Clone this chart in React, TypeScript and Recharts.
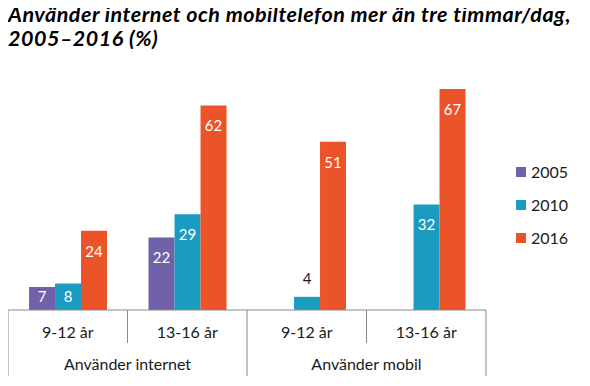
import { BarChart, Bar, XAxis, YAxis, Legend, LabelList } from "recharts";

// kategorier och värden (procent)
const ageGroups = ["9-12 år", "13-16 år", "9-12 år", "13-16 år"];
const usageGroups = ["Använder internet", "Använder internet", "Använder mobil", "Använder mobil"];
const values2005: (number | null)[] = [7, 22, null, null];
const values2010 = [8, 29, 4, 32];
const values2016 = [24, 62, 51, 67];

const COLORS = { y2005: "#7161a8", y2010: "#1a9cc1", y2016: "#eb5429" };
const FONT = "Lato, 'Open Sans', sans-serif";

const W = 574;
const H = 370;
const MARGIN = { top: 38, right: 96, bottom: 0, left: 0 };
const AXIS_H = 68;
const BAND = (W - MARGIN.left - MARGIN.right) / ageGroups.length;
const LINE = "#8a8a8a";

const data = ageGroups.map((age, i) => ({
  age,
  usage: usageGroups[i],
  y2005: values2005[i],
  y2010: values2010[i],
  y2016: values2016[i],
}));

function CategoryTick(props: any) {
  const { x, y, index, payload } = props;
  const half = BAND / 2;
  const left = x - half;
  const groupStart = index === 0 || usageGroups[index] !== usageGroups[index - 1];
  const isLast = index === ageGroups.length - 1;
  return (
    <g>
      <line x1={left} x2={left} y1={y} y2={y + (groupStart ? 66 : 33)} stroke={LINE} strokeWidth={1} />
      {isLast && <line x1={x + half} x2={x + half} y1={y} y2={y + 66} stroke={LINE} strokeWidth={1} />}
      <text x={x} y={y + 28} textAnchor="middle" fontSize={16} fill="#1a1a1a" fontFamily={FONT}>
        {payload.value}
      </text>
      {groupStart && (
        <text x={x + half} y={y + 60} textAnchor="middle" fontSize={16} fill="#1a1a1a" fontFamily={FONT}>
          {usageGroups[index]}
        </text>
      )}
    </g>
  );
}

function ValueLabel(props: any) {
  const { x, y, width, height, value } = props;
  if (value == null) return null;
  const cx = x + width / 2;
  if (height < 20) {
    return (
      <text x={cx} y={y - 13} textAnchor="middle" fontSize={15} fill="#1a1a1a" fontFamily={FONT}>
        {value}
      </text>
    );
  }
  const cy = y + Math.min(21, height - 13);
  return (
    <text x={cx} y={cy + 5} textAnchor="middle" fontSize={15} fill="#fff" fontFamily={FONT}>
      {value}
    </text>
  );
}

function LegendBox(props: any) {
  const { payload } = props;
  return (
    <div style={{ fontFamily: FONT, fontSize: 16, color: "#1a1a1a" }}>
      {payload.map((p: any) => (
        <div key={p.value} style={{ height: 33, display: "flex", alignItems: "center" }}>
          <span style={{ width: 10, height: 10, background: p.color, marginRight: 5, display: "inline-block" }} />
          {p.value}
        </div>
      ))}
    </div>
  );
}

export default function App() {
  return (
    <div style={{ position: "relative", width: W, height: H }}>
      <div style={{ position: "absolute", top: 30, left: 0 }}>
        <BarChart width={W} height={H - 30} data={data} margin={{ ...MARGIN, top: MARGIN.top - 30 }} barCategoryGap="17.6%" barGap={0}>
          <XAxis
            dataKey="age"
            height={AXIS_H}
            tickLine={false}
            tickSize={0}
            tickMargin={0}
            axisLine={{ stroke: LINE }}
            tick={<CategoryTick />}
            interval={0}
          />
          <YAxis hide domain={[0, 80]} />
          <Legend
            layout="vertical"
            align="center"
            verticalAlign="middle"
            content={<LegendBox />}
            wrapperStyle={{ left: 508, top: 117, width: 70 }}
          />
          <Bar dataKey="y2005" name="2005" fill={COLORS.y2005} isAnimationActive={false}>
            <LabelList dataKey="y2005" content={<ValueLabel />} />
          </Bar>
          <Bar dataKey="y2010" name="2010" fill={COLORS.y2010} isAnimationActive={false}>
            <LabelList dataKey="y2010" content={<ValueLabel />} />
          </Bar>
          <Bar dataKey="y2016" name="2016" fill={COLORS.y2016} isAnimationActive={false}>
            <LabelList dataKey="y2016" content={<ValueLabel />} />
          </Bar>
        </BarChart>
      </div>
      <div
        style={{
          position: "absolute",
          top: -6,
          left: 0,
          fontFamily: FONT,
          fontWeight: 700,
          fontStyle: "italic",
          fontSize: 21.5,
          letterSpacing: 0.5,
          lineHeight: "24px",
          color: "#000",
          whiteSpace: "nowrap",
        }}
      >
        <div>Använder internet och mobiltelefon mer än tre timmar/dag,</div>
        <div>2005–2016 (%)</div>
      </div>
    </div>
  );
}
